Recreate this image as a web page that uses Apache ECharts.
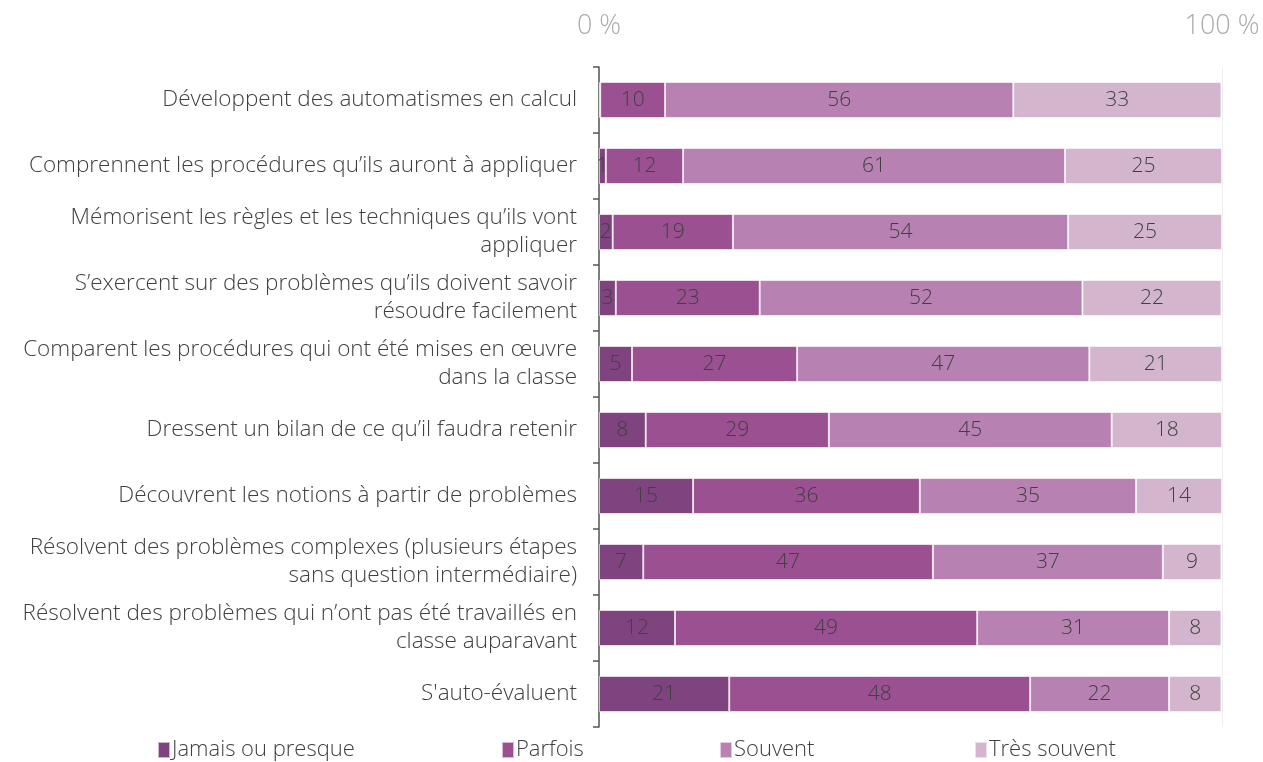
<!DOCTYPE html>
<html>
<head>
<meta charset="utf-8">
<script src="https://cdn.jsdelivr.net/npm/echarts@6/dist/echarts.min.js"></script>
<style>
  html, body { margin: 0; padding: 0; background: #fff; }
  #chart { width: 1263px; height: 762px; }
</style>
</head>
<body>
<div id="chart"></div>
<script>
const categories = [
  'Développent des automatismes en calcul',
  'Comprennent les procédures qu\u2019ils auront à appliquer',
  'Mémorisent les règles et les techniques qu\u2019ils vont\nappliquer',
  'S\u2019exercent sur des problèmes qu\u2019ils doivent savoir\nrésoudre facilement',
  'Comparent les procédures qui ont été mises en œuvre\ndans la classe',
  'Dressent un bilan de ce qu\u2019il faudra retenir',
  'Découvrent les notions à partir de problèmes',
  'Résolvent des problèmes complexes (plusieurs étapes\nsans question intermédiaire)',
  'Résolvent des problèmes qui n\u2019ont pas été travaillés en\nclasse auparavant',
  "S'auto-évaluent"
];

const jamais = [0.2, 1.1, 2.2, 2.7, 5.3, 7.5, 15.1, 7.1, 12.2, 20.9];
const parfois = [10.4, 12.4, 19.3, 23.1, 26.5, 29.4, 36.4, 46.5, 48.5, 48.3];
const souvent = [55.9, 61.3, 53.8, 51.8, 46.9, 45.4, 34.7, 36.9, 30.8, 22.3];
const tresSouvent = [33.4, 25.2, 24.7, 22.3, 21.3, 17.7, 13.8, 9.4, 8.4, 8.4];

const seriesNames = ['Jamais ou presque', 'Parfois', 'Souvent', 'Très souvent'];
const colors = ['#7f4480', '#9b5191', '#b781b1', '#d3b6ce'];
const legendLeft = [152, 496, 714, 969];

const FONT = '"Open Sans", sans-serif';

const chart = echarts.init(document.getElementById('chart'));

const makeSeries = (name, data, i) => ({
  name,
  type: 'bar',
  stack: 'total',
  data,
  barWidth: 36,
  itemStyle: {
    color: colors[i],
    borderColor: 'rgba(255,255,255,0.6)',
    borderWidth: 1
  },
  label: {
    show: true,
    position: 'inside',
    color: '#404040',
    fontFamily: FONT,
    fontWeight: 300,
    fontSize: 21,
    formatter: (p) => (p.value < 0.5 ? '' : Math.round(p.value))
  }
});

chart.setOption({
  animation: false,
  grid: { left: 599, right: 41, top: 67, bottom: 35 },
  legend: seriesNames.map((name, i) => ({
    data: [name],
    left: legendLeft[i],
    bottom: -4,
    itemWidth: 12,
    itemHeight: 16,
    itemGap: 4,
    icon: 'rect',
    textStyle: { fontFamily: FONT, fontWeight: 300, fontSize: 22, color: '#404040', padding: [0, 0, 0, -3] }
  })),
  xAxis: {
    type: 'value',
    position: 'top',
    min: 0,
    max: 100,
    interval: 100,
    axisLine: { show: false },
    axisTick: { show: false },
    splitLine: { show: true, lineStyle: { color: '#eeeeee', width: 1 } },
    axisLabel: {
      margin: 27,
      color: '#aaaaaa',
      fontFamily: FONT,
      fontWeight: 300,
      fontSize: 27,
      formatter: '{value} %'
    }
  },
  yAxis: {
    type: 'category',
    inverse: true,
    data: categories,
    axisLine: { show: true, lineStyle: { color: '#555555', width: 1.5 } },
    axisTick: { show: true, length: 6, lineStyle: { color: '#555555', width: 1.5 } },
    axisLabel: {
      margin: 22,
      color: '#404040',
      fontFamily: FONT,
      fontWeight: 300,
      fontSize: 22.5,
      lineHeight: 28,
      align: 'right'
    }
  },
  series: [
    makeSeries(seriesNames[0], jamais, 0),
    makeSeries(seriesNames[1], parfois, 1),
    makeSeries(seriesNames[2], souvent, 2),
    makeSeries(seriesNames[3], tresSouvent, 3)
  ]
});
</script>
</body>
</html>
